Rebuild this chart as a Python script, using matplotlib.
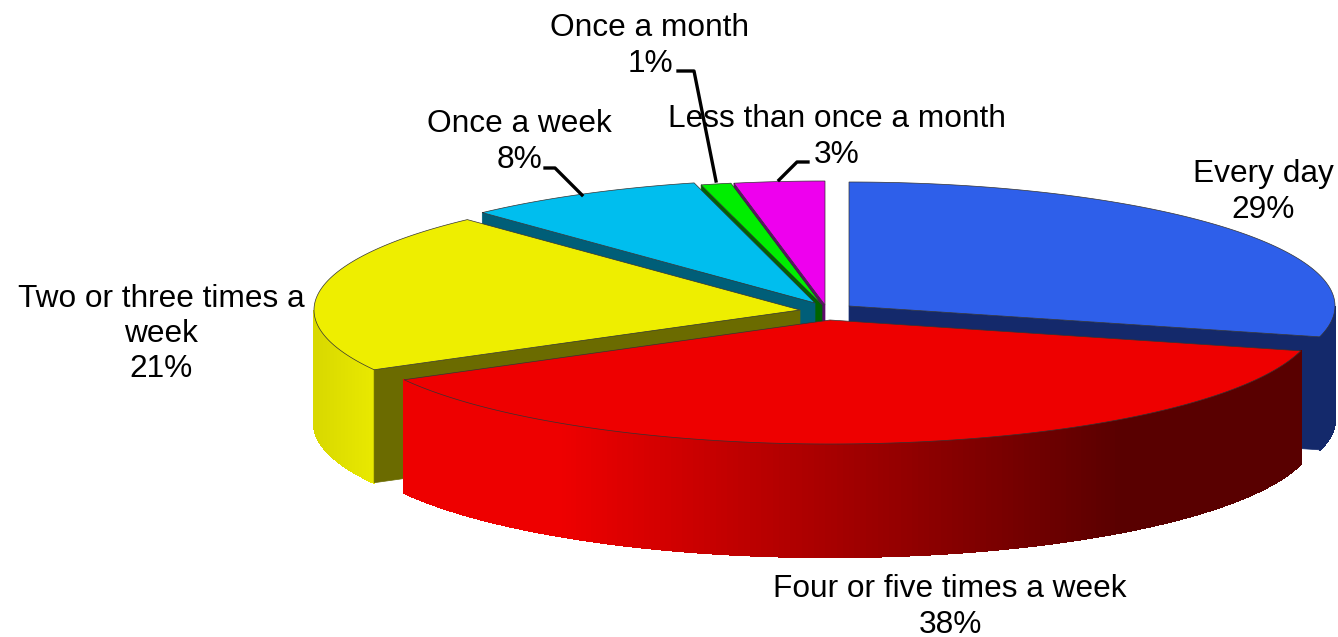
#!/usr/bin/env python3
"""3D-look pie chart: how often, by share of respondents."""

import matplotlib

matplotlib.use("Agg")
import matplotlib.pyplot as plt
import numpy as np

# --- Data ------------------------------------------------------------------- #
categories = ["Every day", "Four or five times a week", "Two or three times a\nweek",
              "Once a week", "Once a month", "Less than once a month"]
shares = [29, 38, 21, 8, 1, 3]

# --- Styling (pixel space of the output image) ------------------------------ #
top_colors = ["#2E5FEA", "#EE0000", "#EEEE00", "#00BEEE", "#00EE00", "#EE00EE"]
face_colors = ["#14296B", "#5A0000", "#6B6B00", "#005E78", "#006400", "#5E0A6A"]
apex_x = [849, 830, 800, 815, 822, 825]
apex_y = [306, 320, 310, 303, 305, 305]
RX, RY = 486, 124
DEPTH = 113

plt.rcParams["font.family"] = ["Liberation Sans", "DejaVu Sans"]
fig = plt.figure(figsize=(13.38, 6.37), dpi=100)
ax = fig.add_axes([0, 0, 1, 1])
ax.set_xlim(0, 1338)
ax.set_ylim(637, 0)
ax.axis("off")

# slice boundaries, clockwise from 12 o'clock
bounds = np.concatenate([[0], np.cumsum(shares)]) / sum(shares) * 2 * np.pi


def rim(i, t):
    return apex_x[i] + RX * np.sin(t), apex_y[i] - RY * np.cos(t)


def wall_color(i, x):
    rgb = np.array(matplotlib.colors.to_rgb(top_colors[i]))
    if i == 1:  # red wall fades to dark towards the right
        f = np.clip((x - 560) / (1120 - 560), 0, 1)
        return tuple(rgb * (1 - f) + np.array([0.35, 0, 0]) * f)
    if i == 2:  # yellow wall slightly dimmer at the far left
        f = np.clip((375 - x) / 60, 0, 1)
        return tuple(rgb * (0.98 - 0.07 * f))
    return matplotlib.colors.to_rgb(face_colors[i])


def draw_slice(i, z):
    t0, t1 = bounds[i], bounds[i + 1]
    ts = np.linspace(t0, t1, 200)
    xs, ys = rim(i, ts)

    # outer wall, only on the front half
    front = ts[(ts >= np.pi / 2) & (ts <= 3 * np.pi / 2)]
    for a, b in zip(front[:-1], front[1:]):
        xa, ya = rim(i, a)
        xb, yb = rim(i, b)
        c = wall_color(i, (xa + xb) / 2)
        ax.fill([xa, xb, xb, xa], [ya, yb, yb + DEPTH, ya + DEPTH],
                color=c, linewidth=1.0, antialiased=False, zorder=z)

    # cut face: the end edge for the first slice, the start edge for the left ones
    if i != 1:
        t = t1 if i == 0 else t0
        xe, ye = rim(i, t)
        ax.fill([apex_x[i], xe, xe, apex_x[i]],
                [apex_y[i], ye, ye + DEPTH, apex_y[i] + DEPTH],
                color=face_colors[i], linewidth=0.5, zorder=z)

    # top
    ax.fill(np.r_[apex_x[i], xs], np.r_[apex_y[i], ys], facecolor=top_colors[i],
            edgecolor="#333333", linewidth=0.5, zorder=z + 0.5)


# back to front
for z, i in enumerate([5, 4, 3, 2, 0, 1]):
    draw_slice(i, z + 2)

label_pos = [(1263, 192), (950, 607), (161, 334), (519, 142), (650, 46), (837, 137)]
for (x, y), txt, s in zip(label_pos, categories, shares):
    ax.text(x, y, f"{txt}\n{s}%", ha="center", va="center", fontsize=22.8,
            color="black", linespacing=1.22, zorder=20)

# leader lines
leaders_x = [[545, 555, 582], [678, 694, 716], [808, 797, 779]]
leaders_y = [[168, 168, 195], [71, 71, 181], [162, 162, 180]]
for lx, ly in zip(leaders_x, leaders_y):
    ax.plot(lx, ly, color="black", linewidth=2.4, zorder=15)

fig.savefig("out.png", dpi=100, facecolor="white")
plt.close(fig)
